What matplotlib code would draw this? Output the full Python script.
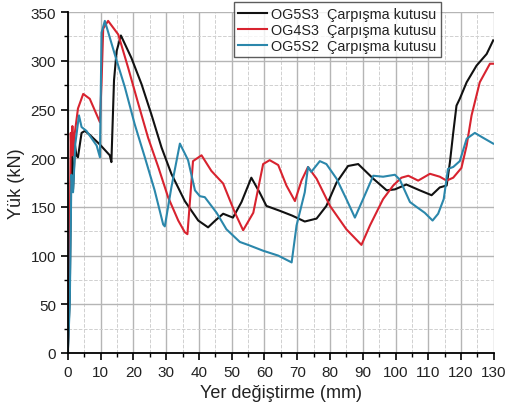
import numpy as np
import matplotlib
matplotlib.use('Agg')
import matplotlib.pyplot as plt
from matplotlib.ticker import MultipleLocator

plt.rcParams['font.family'] = ['Liberation Sans', 'DejaVu Sans']

########## Data

x_og5s3 = [0, 0.6, 1.1, 1.6, 2.2, 2.6, 3.1, 4.2, 5.2, 6.7, 9.8, 12.8, 13.3, 14.1, 14.9, 16.2,
           19.4, 22.5, 25.5, 28.6, 31.6, 35.7, 39.8, 42.8, 45, 47.4, 50.4, 53, 56, 58.5,
           60.6, 64.7, 68.5, 72.3, 75.9, 78.9, 82, 85.5, 88.6,
           93.2, 97.3, 99.8, 103.3, 107.4, 111, 113.5, 115.6, 116.6, 117.6, 118.6, 119.6,
           121.7, 124.7, 127.8, 129.8]
y_og5s3 = [0, 60, 216, 168, 213, 203, 201, 226, 228, 224, 214, 203, 196, 280, 310, 326,
           303, 276, 245, 211, 184, 156, 136, 129, 136, 143, 139, 155, 180, 165,
           151, 146, 141, 135, 138, 151, 175, 192, 194,
           179, 167, 168, 173, 167, 162, 170, 172, 196, 226, 254, 261,
           278, 295, 307, 321]

x_og4s3 = [0, 0.6, 0.9, 1.1, 1.4, 1.6, 2.1, 3.1, 4.7, 6.7, 9.8, 10.3, 10.8, 12.3, 15.4,
           18.4, 21.5, 24.5, 27.6, 30.6, 33.7, 35.7, 36.5, 38.2, 40.8, 43.8, 47.4, 51, 53.5,
           56.6, 59.6, 61.6, 64.2, 66.7,
           69.3, 71.3, 73.3, 75.9, 80, 85, 89.6, 92.2, 96.2, 99.3, 101.8, 103.9, 106.9,
           110.5, 113.5, 115.6, 117.6, 120.1, 121.7, 123.2, 125.7, 128.8, 130]
y_og4s3 = [0, 110, 226, 203, 233, 203, 225, 251, 266, 261, 237, 278, 333, 341, 327,
           293, 256, 221, 191, 160, 136, 124, 122, 197, 203, 187, 174, 144, 126,
           144, 194, 198, 193, 172,
           156, 177, 191, 179, 151, 127, 111, 131, 158, 172, 180, 182, 177,
           184, 181, 177, 180, 190, 213, 244, 278, 297, 297]

x_og5s2 = [0, 0.6, 1.1, 1.6, 2.3, 3.4, 4.2, 5.7, 8.8, 9.8, 10.3, 11.3, 14.3, 17.4, 20.4,
           23.5, 26.5, 29.1, 29.6, 31.6, 34.2, 36.7, 38.8, 40.3, 41.8, 45.4, 48.4, 52.5, 55,
           59.6, 64.2, 68.3,
           69.8, 72.3, 73.3, 74.3, 76.9, 78.9, 82, 85, 87.6, 90.1, 93.2, 96.2, 99.8,
           101.3, 104.4, 106.4, 108.9, 111.3, 113, 114.7, 116, 117.6, 119.6, 121.7,
           124.2, 126.7, 129.8]
y_og5s2 = [0, 50, 183, 165, 215, 244, 232, 228, 213, 201, 329, 341, 307, 273, 235,
           201, 167, 132, 130, 170, 215, 198, 167, 161, 160, 144, 127, 114, 111,
           105, 100, 93,
           131, 165, 191, 186, 197, 194, 179, 158, 139, 158, 182, 181, 183,
           178, 155, 150, 144, 136, 143, 158, 189, 191, 197, 220,
           226, 221, 215]

labels = ['OG5S3  Çarpışma kutusu', 'OG4S3  Çarpışma kutusu', 'OG5S2  Çarpışma kutusu']

########## Plot

fig = plt.figure(figsize=(5.06, 4.10), dpi=100)
ax = fig.add_axes([0.134, 0.1366, 0.842, 0.8314])

ax.plot(x_og5s3, y_og5s3, color='#111111', lw=1.5, label=labels[0])
ax.plot(x_og4s3, y_og4s3, color='#d8232f', lw=1.5, label=labels[1])
ax.plot(x_og5s2, y_og5s2, color='#2b87ab', lw=1.5, label=labels[2])

ax.set_xlim(0, 130)
ax.set_ylim(0, 350)
ax.xaxis.set_major_locator(MultipleLocator(10))
ax.xaxis.set_minor_locator(MultipleLocator(5))
ax.yaxis.set_major_locator(MultipleLocator(50))
ax.yaxis.set_minor_locator(MultipleLocator(25))

ax.grid(which='major', color='#b5b5b5', lw=1.0, ls='-')
ax.grid(which='minor', color='#d0d0d0', lw=0.7, ls='--')
ax.set_axisbelow(True)

for s in ('top', 'right'):
    ax.spines[s].set_visible(False)
for s in ('left', 'bottom'):
    ax.spines[s].set_linewidth(1.3)

ax.tick_params(which='major', direction='out', length=5, width=1.2, labelsize=11,
               labelcolor='#222222')
ax.tick_params(which='minor', direction='out', length=3, width=1.0)

ax.set_xlabel('Yer değiştirme (mm)', size=13, color='#222222')
ax.set_ylabel('Yük (kN)', size=13, color='#222222')

leg = ax.legend(loc='upper right', bbox_to_anchor=(0.876, 1.029), fontsize=10.4,
                frameon=True, fancybox=False, handlelength=2.0, borderpad=0.3,
                labelspacing=0.15, handletextpad=0.3, borderaxespad=0)
leg.get_frame().set_edgecolor('#333333')
leg.get_frame().set_linewidth(1.0)
for t in leg.get_texts():
    t.set_color('#222222')

fig.savefig('out.png', dpi=100)
